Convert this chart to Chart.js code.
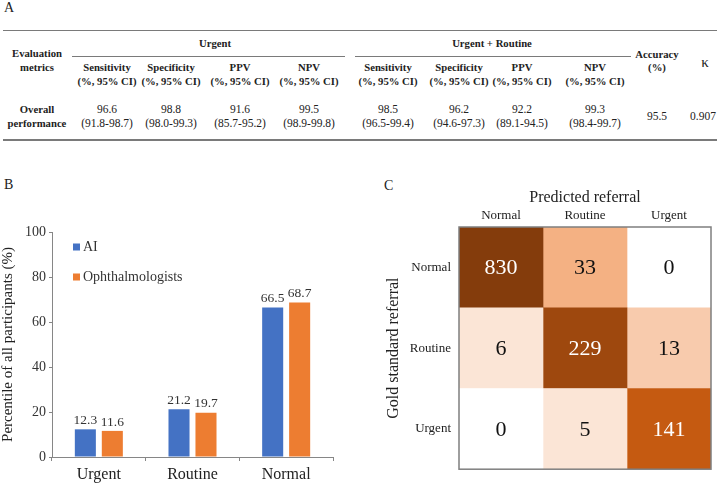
<!DOCTYPE html>
<html>
<head>
<meta charset="utf-8">
<script src="https://cdn.jsdelivr.net/npm/chart.js@4.4.1/dist/chart.umd.min.js"></script>
<style>
  body { margin: 0; background: #fff; font-family: "Liberation Serif", "Times New Roman", serif; }
  #page { position: relative; width: 720px; height: 485px; overflow: hidden; }
  .txt { position: absolute; width: 120px; height: 16px; line-height: 16px; text-align: center; color: #222; font-size: 11.5px; white-space: nowrap; }
  .hd { font-weight: bold; font-size: 10.7px; }
  .rule { position: absolute; background: #7a7a7a; }
  .panel { position: absolute; font-size: 14px; color: #222; }
  canvas { position: absolute; }
</style>
</head>
<body>
<div id="page">
  <div class="panel" style="left:4px;top:0px;">A</div>
  <div class="panel" style="left:4px;top:177px;">B</div>
  <div class="panel" style="left:384px;top:178px;">C</div>
  <div id="tableA"></div>
  <div style="position:absolute;left:0;top:190px;width:370px;height:295px;"><canvas id="barChart"></canvas></div>
  <div style="position:absolute;left:370px;top:190px;width:350px;height:295px;"><canvas id="matrixChart"></canvas></div>
</div>
<script>
// ---- table A data
const metricNames = ['Sensitivity', 'Specificity', 'PPV', 'NPV'];
const urgentPoint = ['96.6', '98.8', '91.6', '99.5'];
const urgentCI = ['91.8-98.7', '98.0-99.3', '85.7-95.2', '98.9-99.8'];
const urgRoutPoint = ['98.5', '96.2', '92.2', '99.3'];
const urgRoutCI = ['96.5-99.4', '94.6-97.3', '89.1-94.5', '98.4-99.7'];
const accuracy = '95.5';
const kappa = '0.907';

// ---- panel B data
const groups = ['Urgent', 'Routine', 'Normal'];
const aiValues = [12.3, 21.2, 66.5];
const ophValues = [11.6, 19.7, 68.7];
const yTicks = [0, 20, 40, 60, 80, 100];

// ---- panel C data (rows = gold standard, cols = predicted)
const predLabels = ['Normal', 'Routine', 'Urgent'];
const goldLabels = ['Normal', 'Routine', 'Urgent'];
const matrix = [
  [830, 33, 0],
  [6, 229, 13],
  [0, 5, 141]
];

const serif = '"Liberation Serif", "Times New Roman", serif';

// ---------- table A ----------
const tbl = document.getElementById('tableA');
function put(text, cx, cy, cls, size) {
  const d = document.createElement('div');
  d.className = 'txt ' + (cls || '');
  d.textContent = text;
  d.style.left = (cx - 60) + 'px';
  d.style.top = (cy - 8) + 'px';
  if (size) d.style.fontSize = size + 'px';
  tbl.appendChild(d);
}
function rule(x, y, w, h) {
  const d = document.createElement('div');
  d.className = 'rule';
  d.style.left = x + 'px'; d.style.top = y + 'px';
  d.style.width = w + 'px'; d.style.height = h + 'px';
  tbl.appendChild(d);
}
rule(3, 30, 714, 1);
rule(72, 56, 273, 1);
rule(355, 56, 276, 1);
rule(3, 139, 714, 2);

put('Evaluation', 37, 53, 'hd');
put('metrics', 37, 67, 'hd');
put('Urgent', 215, 43, 'hd');
put('Urgent + Routine', 492, 43, 'hd');
put('Accuracy', 657, 54, 'hd');
put('(%)', 657, 67, 'hd');
put('\u03ba', 705, 62, '', 15);
put('Overall', 37, 109, 'hd');
put('performance', 37, 123, 'hd');

const urgentX = [107, 171, 240, 309];
const urgRoutX = [388, 459, 522, 595];
metricNames.forEach((m, i) => {
  put(m, urgentX[i], 67, 'hd');
  put('(%, 95% CI)', urgentX[i], 81, 'hd');
  put(urgentPoint[i], urgentX[i], 109);
  put('(' + urgentCI[i] + ')', urgentX[i], 123);
  put(m, urgRoutX[i], 67, 'hd');
  put('(%, 95% CI)', urgRoutX[i], 81, 'hd');
  put(urgRoutPoint[i], urgRoutX[i], 109);
  put('(' + urgRoutCI[i] + ')', urgRoutX[i], 123);
});
put(accuracy, 657, 116);
put(kappa, 703, 116);

// ---------- panel B ----------
const valueLabels = {
  id: 'valueLabels',
  afterDatasetsDraw(chart) {
    const ctx = chart.ctx;
    ctx.save();
    ctx.font = '13.5px ' + serif;
    ctx.fillStyle = '#333';
    ctx.textAlign = 'center';
    ctx.textBaseline = 'bottom';
    chart.data.datasets.forEach((ds, di) => {
      chart.getDatasetMeta(di).data.forEach((bar, i) => {
        ctx.fillText(ds.data[i].toFixed(1), bar.x, bar.y - 2);
      });
    });
    ctx.restore();
  }
};

// small legend drawn inside the plot area, like the original
const insideLegend = {
  id: 'insideLegend',
  afterDraw(chart) {
    const ctx = chart.ctx;
    const a = chart.chartArea;
    ctx.save();
    ctx.font = '14px ' + serif;
    ctx.textBaseline = 'middle';
    chart.data.datasets.forEach((ds, i) => {
      const y = a.top + 15 + i * 30;
      ctx.fillStyle = ds.backgroundColor;
      ctx.fillRect(a.left + 21, y - 3.5, 7, 7);
      ctx.fillStyle = '#333';
      ctx.fillText(ds.label, a.left + 31, y);
    });
    ctx.restore();
  }
};

new Chart(document.getElementById('barChart'), {
  type: 'bar',
  data: {
    labels: groups,
    datasets: [
      { label: 'AI', data: aiValues, backgroundColor: '#4472C4' },
      { label: 'Ophthalmologists', data: ophValues, backgroundColor: '#ED7D31' }
    ]
  },
  options: {
    responsive: true,
    maintainAspectRatio: false,
    animation: false,
    layout: { padding: { top: 42, right: 37, left: 0, bottom: 0 } },
    datasets: { bar: { categoryPercentage: 0.576, barPercentage: 0.78 } },
    plugins: { legend: { display: false }, tooltip: { enabled: false } },
    scales: {
      x: {
        grid: { offset: true, drawOnChartArea: false, tickLength: 4, tickColor: '#868686' },
        border: { color: '#868686' },
        ticks: { font: { family: serif, size: 16 }, color: '#222', padding: 4 },
        afterFit(s) { s.height = 28; }
      },
      y: {
        min: 0,
        max: 100,
        afterBuildTicks(s) { s.ticks = yTicks.map(v => ({ value: v })); },
        grid: { drawOnChartArea: false, tickLength: 3, tickColor: '#868686' },
        border: { color: '#868686' },
        ticks: { font: { family: serif, size: 14 }, color: '#333', padding: 3 },
        title: {
          display: true,
          text: 'Percentile of all participants (%)',
          font: { family: serif, size: 15, lineHeight: 1 },
          color: '#222',
          padding: { top: 1, bottom: 0 }
        },
        afterFit(s) { s.width = 52; }
      }
    }
  },
  plugins: [valueLabels, insideLegend]
});

// ---------- panel C ----------
function cellColor(n) {
  if (n === 0) return '#FFFFFF';
  if (n < 10) return '#FBE5D6';
  if (n < 20) return '#F8CBAD';
  if (n < 100) return '#F4B183';
  if (n < 200) return '#C55A11';
  if (n < 500) return '#9E480E';
  return '#843C0C';
}

const cellLabels = {
  id: 'cellLabels',
  afterDatasetsDraw(chart) {
    const ctx = chart.ctx;
    const a = chart.chartArea;
    ctx.save();
    ctx.font = '22px ' + serif;
    ctx.textAlign = 'center';
    ctx.textBaseline = 'middle';
    chart.data.datasets.forEach((ds, c) => {
      chart.getDatasetMeta(c).data.forEach((bar, r) => {
        const n = matrix[r][c];
        ctx.fillStyle = n >= 100 ? '#ffffff' : '#111111';
        ctx.fillText(String(n), (bar.x + bar.base) / 2, bar.y + 1);
      });
    });
    ctx.strokeStyle = '#7F7F7F';
    ctx.lineWidth = 1.5;
    ctx.strokeRect(a.left, a.top, a.right - a.left, a.bottom - a.top);
    ctx.restore();
  }
};

new Chart(document.getElementById('matrixChart'), {
  type: 'bar',
  data: {
    labels: goldLabels,
    datasets: predLabels.map((p, c) => ({
      label: p,
      data: goldLabels.map(() => 1),
      backgroundColor: matrix.map(row => cellColor(row[c])),
      borderWidth: 0
    }))
  },
  options: {
    indexAxis: 'y',
    responsive: true,
    maintainAspectRatio: false,
    animation: false,
    layout: { padding: { top: 0, right: 9, left: 0, bottom: 6 } },
    datasets: { bar: { categoryPercentage: 1, barPercentage: 1 } },
    plugins: { legend: { display: false }, tooltip: { enabled: false } },
    scales: {
      x: {
        type: 'linear',
        position: 'top',
        stacked: true,
        min: 0,
        max: 3,
        afterBuildTicks(s) { s.ticks = predLabels.map((p, i) => ({ value: i + 0.5 })); },
        grid: { display: false, drawTicks: false },
        border: { display: false },
        ticks: {
          font: { family: serif, size: 13 },
          color: '#222',
          padding: 4,
          callback: v => predLabels[Math.floor(v)]
        },
        title: {
          display: true,
          text: 'Predicted referral',
          font: { family: serif, size: 16, lineHeight: 1 },
          color: '#222',
          padding: { top: 0, bottom: 0 }
        },
        afterFit(s) { s.height = 37; }
      },
      y: {
        stacked: true,
        grid: { display: false, drawTicks: false },
        border: { display: false },
        ticks: { font: { family: serif, size: 13 }, color: '#222', padding: 8 },
        title: {
          display: true,
          text: 'Gold standard referral',
          font: { family: serif, size: 16, lineHeight: 1 },
          color: '#222',
          padding: { top: 16, bottom: 0 }
        },
        afterFit(s) { s.width = 89; }
      }
    }
  },
  plugins: [cellLabels]
});
</script>
</body>
</html>
